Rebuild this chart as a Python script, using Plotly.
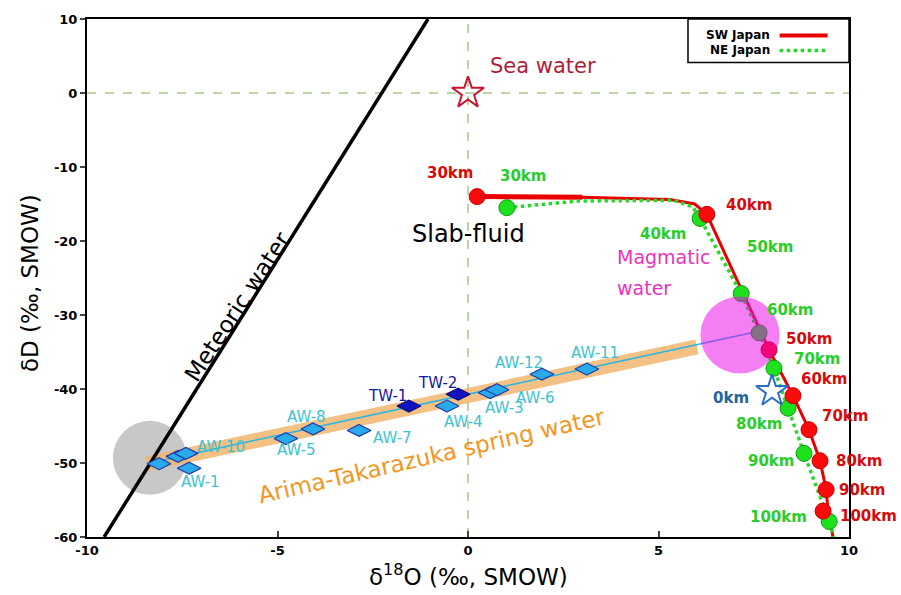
import plotly.graph_objects as go

# ---------------- data ----------------
meteoric_x = [-9.55, -1.05]
meteoric_y = [-60.0, 10.0]

sea_x = [0.0]
sea_y = [0.0]

star0_x = [7.98]
star0_y = [-40.3]

sw_labels = ["30km", "40km", "50km", "60km", "70km", "80km", "90km", "100km"]
sw_x = [0.24, 6.27, 7.90, 8.53, 8.95, 9.24, 9.40, 9.32]
sw_y = [-14.0, -16.4, -34.7, -40.9, -45.5, -49.7, -53.6, -56.5]
sw_path_x = [0.24, 3.0, 5.3, 5.95, 6.27, 7.90, 8.53, 8.95, 9.24, 9.40, 9.45, 9.58]
sw_path_y = [-14.0, -14.1, -14.4, -15.0, -16.4, -34.7, -40.9, -45.5, -49.7, -53.6, -56.5, -60.0]

ne_labels = ["30km", "40km", "50km", "60km", "70km", "80km", "90km", "100km"]
ne_x = [1.02, 6.09, 7.17, 7.64, 8.03, 8.40, 8.82, 9.48]
ne_y = [-15.5, -16.95, -27.1, -32.4, -37.2, -42.6, -48.7, -57.9]
ne_path_x = [1.02, 1.6, 2.9, 5.4, 5.9, 6.09, 7.17, 7.64, 8.03, 8.40, 8.82, 9.48, 9.6]
ne_path_y = [-15.5, -15.2, -14.6, -14.5, -15.4, -16.95, -27.1, -32.4, -37.2, -42.6, -48.7, -57.9, -60.0]

aw_names = ["AW-9", "AW-2", "AW-10", "AW-1", "AW-5", "AW-8", "AW-7", "AW-4", "AW-3", "AW-6", "AW-12", "AW-11"]
aw_x = [-8.11, -7.61, -7.40, -7.32, -4.78, -4.07, -2.86, -0.55, 0.58, 0.76, 1.94, 3.12]
aw_y = [-50.1, -49.1, -48.7, -50.7, -46.7, -45.4, -45.6, -42.3, -40.5, -40.1, -38.0, -37.3]

tw_names = ["TW-1", "TW-2"]
tw_x = [-1.55, -0.26]
tw_y = [-42.3, -40.7]

band_x = [-8.43, 6.01]
band_y = [-50.1, -34.3]
trend_x = [-8.43, 7.45]
trend_y = [-50.1, -32.4]

magmatic_center = (7.14, -32.7)
meteoric_end_center = (-8.35, -49.3)

x_ticks = [-10, -5, 0, 5, 10]
y_ticks = [10, 0, -10, -20, -30, -40, -50, -60]
x_ticktext = ["-10", "-5", "0", "5", "10"]
y_ticktext = ["10", "0", "-10", "-20", "-30", "-40", "-50", "-60"]

# label positions (data coordinates)
aw_label_pos = {
    "AW-10": (-6.48, -47.8), "AW-1": (-7.03, -52.5), "AW-5": (-4.51, -48.3),
    "AW-8": (-4.25, -43.8), "AW-7": (-1.99, -46.6), "AW-4": (-0.13, -44.4),
    "AW-3": (0.97, -42.6), "AW-6": (1.78, -41.2), "AW-12": (1.34, -36.5),
    "AW-11": (3.33, -35.2),
}
tw_label_pos = {"TW-1": (-2.10, -40.9), "TW-2": (-0.79, -39.2)}
sw_label_pos = [(-0.47, -10.8), (7.38, -15.2), (8.95, -33.2), (9.34, -38.7),
                (9.90, -43.6), (10.26, -49.7), (10.34, -53.7), (10.50, -57.1)]
ne_label_pos = [(1.44, -11.2), (5.12, -19.1), (7.93, -20.8), (8.45, -29.3),
                (9.16, -35.9), (7.64, -44.7), (7.95, -49.7), (8.14, -57.3)]

RED = "rgb(235,0,0)"
GREEN = "rgb(40,215,40)"
CYAN_TXT = "rgb(60,195,210)"
FONT = "DejaVu Sans"
XR = (-10, 10)

fig = go.Figure()

# orange band
fig.add_trace(go.Scatter(x=band_x, y=band_y, mode="lines",
                         line=dict(color="rgba(242,182,110,0.85)", width=15),
                         hoverinfo="skip", showlegend=False))
# meteoric water line
fig.add_trace(go.Scatter(x=meteoric_x, y=meteoric_y, mode="lines",
                         line=dict(color="black", width=3.5),
                         hoverinfo="skip", showlegend=False))
# trend line
fig.add_trace(go.Scatter(x=trend_x, y=trend_y, mode="lines",
                         line=dict(color="rgb(40,180,230)", width=1.5),
                         hoverinfo="skip", showlegend=False))
# AW diamonds
fig.add_trace(go.Scatter(x=aw_x, y=aw_y, mode="markers", text=aw_names,
                         marker=dict(symbol="diamond-wide", size=17, color="rgb(40,170,235)",
                                     line=dict(color="rgb(35,60,170)", width=1.2)),
                         showlegend=False))
fig.add_trace(go.Scatter(x=tw_x, y=tw_y, mode="markers", text=tw_names,
                         marker=dict(symbol="diamond-wide", size=17, color="rgb(15,20,190)",
                                     line=dict(color="rgb(10,10,120)", width=1.2)),
                         showlegend=False))
# SW Japan path
fig.add_trace(go.Scatter(x=sw_path_x[:2], y=sw_path_y[:2], mode="lines",
                         line=dict(color=RED, width=5), hoverinfo="skip", showlegend=False))
fig.add_trace(go.Scatter(x=sw_path_x, y=sw_path_y, mode="lines",
                         line=dict(color=RED, width=3), hoverinfo="skip", showlegend=False))
# NE Japan path
fig.add_trace(go.Scatter(x=ne_path_x, y=ne_path_y, mode="lines",
                         line=dict(color=GREEN, width=3.5, dash="dot"),
                         hoverinfo="skip", showlegend=False))
# markers
fig.add_trace(go.Scatter(x=ne_x, y=ne_y, mode="markers", text=ne_labels,
                         marker=dict(size=16, color="rgb(30,225,30)",
                                     line=dict(color="rgb(20,150,20)", width=1)),
                         showlegend=False))
fig.add_trace(go.Scatter(x=sw_x, y=sw_y, mode="markers", text=sw_labels,
                         marker=dict(size=16, color="rgb(250,10,10)",
                                     line=dict(color="rgb(200,0,0)", width=1)),
                         showlegend=False))
# stars
fig.add_trace(go.Scatter(x=sea_x, y=sea_y, mode="markers",
                         marker=dict(symbol="star-open", size=24,
                                     line=dict(color="rgb(200,20,50)", width=2),
                                     color="rgb(200,20,50)"),
                         showlegend=False))
fig.add_trace(go.Scatter(x=star0_x, y=star0_y, mode="markers",
                         marker=dict(symbol="star-open", size=24,
                                     line=dict(color="rgb(40,110,200)", width=2),
                                     color="rgb(40,110,200)"),
                         showlegend=False))

shapes = []
# dashed guide lines
shapes.append(dict(type="line", xref="x", yref="y", x0=0, x1=0, y0=-60, y1=10,
                   line=dict(color="rgb(165,200,135)", width=1.5, dash="dash"), layer="below"))
shapes.append(dict(type="line", xref="x", yref="y", x0=-10, x1=10, y0=0, y1=0,
                   line=dict(color="rgb(165,200,135)", width=1.5, dash="dash"), layer="below"))
# gray circle
cx, cy = meteoric_end_center
shapes.append(dict(type="circle", xref="x", yref="y", x0=cx - 0.97, x1=cx + 0.97,
                   y0=cy - 5.0, y1=cy + 5.0, fillcolor="rgb(200,200,200)",
                   line=dict(width=0), layer="below"))
# magmatic circle
mx, my = magmatic_center
shapes.append(dict(type="circle", xref="x", yref="y", x0=mx - 1.04, x1=mx + 1.04,
                   y0=my - 5.2, y1=my + 5.2, fillcolor="rgb(232,0,232)", opacity=0.5,
                   line=dict(width=0), layer="above"))
# legend box and samples
shapes.append(dict(type="rect", xref="paper", yref="paper", x0=0.7887, x1=1.0, y0=0.916, y1=1.0,
                   line=dict(color="black", width=1.5), fillcolor="white", layer="above"))
shapes.append(dict(type="line", xref="paper", yref="paper", x0=0.909, x1=0.972, y0=0.968, y1=0.968,
                   line=dict(color=RED, width=4), layer="above"))
shapes.append(dict(type="line", xref="paper", yref="paper", x0=0.909, x1=0.972, y0=0.939, y1=0.939,
                   line=dict(color=GREEN, width=3.5, dash="dot"), layer="above"))


def label(lx, ly, text, size, color, bold=False, **kw):
    f = dict(family=FONT, size=size, color=color)
    if bold:
        f["weight"] = "bold"
    d = dict(text=text, showarrow=False, font=f,
             xanchor="center", yanchor="middle", y=ly, yref="y")
    if lx > XR[1] - 0.05:
        d.update(xref="paper", x=(lx - XR[0]) / (XR[1] - XR[0]))
    else:
        d.update(xref="x", x=lx)
    d.update(kw)
    return d


ann = []
for name, (lx, ly) in aw_label_pos.items():
    ann.append(label(lx, ly, name, 15, CYAN_TXT))
for name, (lx, ly) in tw_label_pos.items():
    ann.append(label(lx, ly, name, 15, "rgb(20,20,170)"))
for name, (lx, ly) in zip(sw_labels, sw_label_pos):
    ann.append(label(lx, ly, name, 15, "rgb(215,10,10)", bold=True))
for name, (lx, ly) in zip(ne_labels, ne_label_pos):
    ann.append(label(lx, ly, name, 15, "rgb(40,205,40)", bold=True))
ann.append(label(6.90, -41.2, "0km", 15, "rgb(30,100,160)", bold=True))
ann.append(label(1.97, 3.7, "Sea water", 21, "rgb(175,30,55)"))
ann.append(label(0.0, -19.1, "Slab-fluid", 24, "black"))
ann.append(label(3.86, -22.2, "Magmatic", 19, "rgb(235,50,190)", xanchor="left"))
ann.append(label(3.86, -26.4, "water", 19, "rgb(235,50,190)", xanchor="left"))
ann.append(label(-6.06, -28.9, "Meteoric water", 23, "black", textangle=-57))
ann.append(label(-0.97, -49.0, "Arima-Takarazuka spring water", 23, "rgb(245,150,30)",
                 textangle=-13))
# legend text
ann.append(dict(xref="paper", yref="paper", x=0.899, y=0.969, xanchor="right", yanchor="middle",
                text="<b>SW Japan</b>", showarrow=False,
                font=dict(family=FONT, size=12, color="black")))
ann.append(dict(xref="paper", yref="paper", x=0.899, y=0.940, xanchor="right", yanchor="middle",
                text="<b>NE Japan</b>", showarrow=False,
                font=dict(family=FONT, size=12, color="black")))
# axis titles
ann.append(dict(xref="paper", yref="paper", x=-0.075, y=0.49, xanchor="center", yanchor="middle",
                text="δD (‰, SMOW)", textangle=-90, showarrow=False,
                font=dict(family=FONT, size=23, color="black")))
ann.append(dict(xref="paper", yref="paper", x=0.5, y=-0.073, xanchor="center", yanchor="middle",
                text="δ<sup>18</sup>O (‰, SMOW)", showarrow=False,
                font=dict(family=FONT, size=23, color="black")))

fig.update_layout(
    width=901, height=595,
    margin=dict(l=87, r=52, t=15, b=58),
    paper_bgcolor="white", plot_bgcolor="white",
    shapes=shapes, annotations=ann, showlegend=False,
    xaxis=dict(range=list(XR), tickvals=x_ticks, ticktext=x_ticktext, ticks="inside", ticklen=6,
               tickwidth=1.5, showgrid=False, zeroline=False, showline=True, linecolor="black",
               linewidth=2, mirror=True,
               tickfont=dict(family=FONT, size=13, color="black", weight="bold")),
    yaxis=dict(range=[-60, 10], tickvals=y_ticks, ticktext=y_ticktext, ticks="outside", ticklen=5,
               tickwidth=1.5, showgrid=False, zeroline=False, showline=True, linecolor="black",
               linewidth=2, mirror=True,
               tickfont=dict(family=FONT, size=13, color="black", weight="bold")),
)

fig.write_html("out.html")
